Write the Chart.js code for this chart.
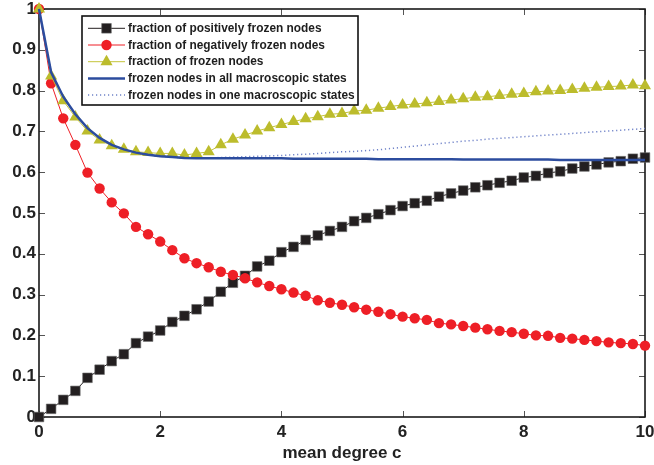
<!DOCTYPE html>
<html>
<head>
<meta charset="utf-8">
<script src="https://cdn.jsdelivr.net/npm/chart.js@4.4.1/dist/chart.umd.min.js"></script>
<style>
  html, body { margin: 0; padding: 0; background: #ffffff; }
  #wrap { width: 654px; height: 465px; position: relative; }
</style>
</head>
<body>
<div id="wrap"><canvas id="c" width="654" height="465"></canvas></div>
<script>
const meanDegree = [0,0.2,0.4,0.6,0.8,1.0,1.2,1.4,1.6,1.8,2.0,2.2,2.4,2.6,2.8,3.0,3.2,3.4,3.6,3.8,4.0,4.2,4.4,4.6,4.8,5.0,5.2,5.4,5.6,5.8,6.0,6.2,6.4,6.6,6.8,7.0,7.2,7.4,7.6,7.8,8.0,8.2,8.4,8.6,8.8,9.0,9.2,9.4,9.6,9.8,10.0];
const positiveFrozen = [0,0.020,0.042,0.064,0.096,0.116,0.137,0.154,0.181,0.197,0.212,0.233,0.248,0.264,0.283,0.307,0.329,0.346,0.369,0.383,0.404,0.417,0.434,0.445,0.456,0.466,0.480,0.488,0.497,0.507,0.517,0.524,0.530,0.540,0.548,0.555,0.563,0.568,0.574,0.579,0.587,0.591,0.598,0.602,0.609,0.614,0.619,0.624,0.627,0.633,0.636];
const negativeFrozen = [1.0,0.818,0.732,0.667,0.599,0.560,0.526,0.499,0.466,0.448,0.430,0.409,0.389,0.377,0.367,0.356,0.348,0.340,0.330,0.321,0.313,0.305,0.297,0.286,0.280,0.275,0.269,0.263,0.258,0.252,0.246,0.242,0.238,0.230,0.227,0.223,0.219,0.215,0.211,0.208,0.204,0.200,0.199,0.194,0.192,0.189,0.186,0.183,0.181,0.179,0.175];
const frozenFraction = [1.0,0.836,0.775,0.735,0.701,0.679,0.665,0.656,0.650,0.648,0.646,0.646,0.642,0.646,0.650,0.667,0.681,0.691,0.701,0.709,0.717,0.724,0.731,0.736,0.742,0.744,0.750,0.752,0.757,0.761,0.765,0.767,0.770,0.773,0.777,0.780,0.784,0.785,0.788,0.791,0.793,0.797,0.799,0.800,0.803,0.806,0.808,0.810,0.811,0.814,0.812];
const frozenAllStates = [1.0,0.845,0.785,0.742,0.708,0.684,0.667,0.656,0.648,0.643,0.639,0.637,0.635,0.634,0.634,0.634,0.634,0.634,0.634,0.634,0.634,0.633,0.633,0.633,0.633,0.633,0.633,0.633,0.632,0.632,0.632,0.632,0.632,0.632,0.632,0.631,0.631,0.631,0.631,0.631,0.631,0.631,0.631,0.630,0.630,0.630,0.630,0.630,0.630,0.630,0.630];
const frozenOneState = [1.0,0.845,0.785,0.742,0.708,0.684,0.667,0.656,0.648,0.643,0.639,0.637,0.635,0.635,0.635,0.636,0.637,0.638,0.639,0.640,0.641,0.643,0.644,0.646,0.648,0.650,0.651,0.653,0.655,0.658,0.661,0.664,0.667,0.670,0.673,0.676,0.678,0.681,0.683,0.685,0.687,0.689,0.691,0.693,0.695,0.697,0.699,0.701,0.703,0.705,0.707];
const xTicks = [0,2,4,6,8,10];
const yTicks = [0,0.1,0.2,0.3,0.4,0.5,0.6,0.7,0.8,0.9,1];
const seriesLabels = ['fraction of positively frozen nodes','fraction of negatively frozen nodes','fraction of frozen nodes','frozen nodes in all macroscopic states','frozen nodes in one macroscopic states'];
const xTitle = 'mean degree c';

const pts = arr => arr.map((v, i) => ({x: meanDegree[i], y: v}));
const FONT = '"Liberation Sans", Arial, Helvetica, sans-serif';

const datasets = [
  {label: seriesLabels[0], data: pts(positiveFrozen), borderColor: '#231f20', backgroundColor: '#231f20',
   borderWidth: 1, pointStyle: 'rect', pointRadius: 6.8, pointBorderWidth: 0.6, pointBorderColor: '#6a6a6a', order: 5, clip: false},
  {label: seriesLabels[1], data: pts(negativeFrozen), borderColor: '#ee1f26', backgroundColor: '#ee1f26',
   borderWidth: 1, pointStyle: 'circle', pointRadius: 5.2, pointBorderWidth: 0, order: 4, clip: false},
  {label: seriesLabels[2], data: pts(frozenFraction), borderColor: '#c4c43a', backgroundColor: '#bcbc2c',
   borderWidth: 1, pointStyle: 'triangle', pointRadius: 7, pointBorderWidth: 0, order: 3, clip: false},
  {label: seriesLabels[3], data: pts(frozenAllStates), borderColor: '#2c4c9e', backgroundColor: '#2c4c9e',
   borderWidth: 2.5, pointRadius: 0, order: 1, clip: false},
  {label: seriesLabels[4], data: pts(frozenOneState), borderColor: '#6f82c8', backgroundColor: '#6f82c8',
   borderWidth: 1.5, borderDash: [1.2, 2.8], pointRadius: 0, order: 2, clip: false}
];

const frameAndTicks = {
  id: 'frameAndTicks',
  beforeDatasetsDraw(chart) {
    const {ctx, chartArea: a, scales: {x, y}} = chart;
    ctx.save();
    ctx.strokeStyle = '#555';
    ctx.lineWidth = 1;
    const L = 6;
    ctx.beginPath();
    xTicks.forEach(t => {
      const px = Math.round(x.getPixelForValue(t)) + 0.5;
      ctx.moveTo(px, a.bottom); ctx.lineTo(px, a.bottom - L);
      ctx.moveTo(px, a.top); ctx.lineTo(px, a.top + L);
    });
    yTicks.forEach(t => {
      const py = Math.round(y.getPixelForValue(t)) + 0.5;
      ctx.moveTo(a.left, py); ctx.lineTo(a.left + L, py);
      ctx.moveTo(a.right, py); ctx.lineTo(a.right - L, py);
    });
    ctx.stroke();
    ctx.strokeStyle = '#1a1a1a';
    ctx.lineWidth = 1.6;
    ctx.strokeRect(a.left, a.top, a.right - a.left, a.bottom - a.top);
    ctx.restore();
  },
  afterDatasetsDraw(chart) {
    const {ctx, chartArea: a} = chart;
    ctx.save();
    // legend box
    const bx = a.left + 43, by = a.top + 7, bw = 276, bh = 89;
    ctx.fillStyle = '#ffffff';
    ctx.fillRect(bx, by, bw, bh);
    ctx.strokeStyle = '#111';
    ctx.lineWidth = 1.6;
    ctx.strokeRect(bx, by, bw, bh);
    const rowH = 16.7;
    chart.data.datasets.forEach((ds, i) => {
      const ry = by + 12.3 + i * rowH;
      const x0 = bx + 6, x1 = bx + 43, xm = (x0 + x1) / 2;
      ctx.save();
      ctx.strokeStyle = ds.borderColor;
      ctx.lineWidth = ds.borderWidth;
      ctx.setLineDash(ds.borderDash || []);
      ctx.beginPath(); ctx.moveTo(x0, ry); ctx.lineTo(x1, ry); ctx.stroke();
      ctx.restore();
      if (ds.pointRadius > 0) {
        ctx.save();
        ctx.fillStyle = ds.backgroundColor;
        ctx.strokeStyle = ds.pointBorderColor || ds.backgroundColor;
        ctx.lineWidth = ds.pointBorderWidth || 0;
        Chart.helpers.drawPoint(ctx, {pointStyle: ds.pointStyle, radius: ds.pointRadius, borderWidth: ds.pointBorderWidth || 0}, xm, ry);
        ctx.restore();
      }
      ctx.fillStyle = '#1e1e1e';
      ctx.font = 'bold 11.9px ' + FONT;
      ctx.textBaseline = 'middle';
      ctx.textAlign = 'left';
      ctx.fillText(ds.label, bx + 46, ry + 0.5);
    });
    ctx.restore();
  }
};

new Chart(document.getElementById('c'), {
  type: 'line',
  data: {datasets},
  options: {
    responsive: false,
    animation: false,
    events: [],
    layout: {padding: {top: 9, right: 9, left: 0, bottom: 0}},
    plugins: {legend: {display: false}, tooltip: {enabled: false}},
    elements: {line: {tension: 0}},
    scales: {
      x: {
        type: 'linear', min: 0, max: 10,
        afterBuildTicks: s => { s.ticks = xTicks.map(v => ({value: v})); },
        afterFit: s => { s.height = 48; s.paddingLeft = 0; s.paddingRight = 0; },
        grid: {display: false, drawTicks: false},
        border: {display: false},
        ticks: {padding: 5, color: '#222', font: {family: FONT, size: 17, weight: 'bold'}, maxRotation: 0, autoSkip: false},
        title: {display: true, text: xTitle, color: '#222', padding: {top: 0, bottom: 1},
                font: {family: FONT, size: 17, weight: 'bold'}}
      },
      y: {
        type: 'linear', min: 0, max: 1,
        afterBuildTicks: s => { s.ticks = yTicks.map(v => ({value: v})); },
        afterFit: s => { s.width = 39; s.paddingTop = 0; s.paddingBottom = 0; },
        grid: {display: false, drawTicks: false},
        border: {display: false},
        ticks: {padding: 3, color: '#222', font: {family: FONT, size: 17, weight: 'bold'}, autoSkip: false,
                callback: v => String(Math.round(v * 10) / 10)}
      }
    }
  },
  plugins: [frameAndTicks]
});
</script>
</body>
</html>
